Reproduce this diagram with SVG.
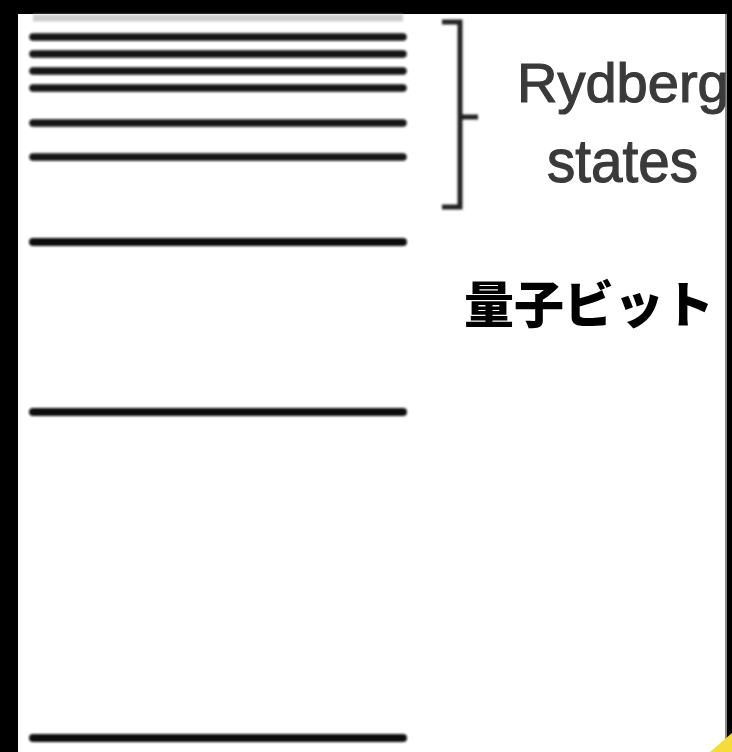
<svg xmlns="http://www.w3.org/2000/svg" width="732" height="752" viewBox="0 0 732 752">
  <defs>
    <filter id="soft" x="-5%" y="-100%" width="110%" height="300%">
      <feGaussianBlur stdDeviation="0.9"/>
    </filter>
    <clipPath id="page">
      <rect x="18" y="14" width="708" height="738"/>
    </clipPath>
    <style>
      .lvl { stroke: #111; stroke-width: 8; stroke-linecap: round; fill: none; }
      .ryd { stroke: #141414; stroke-width: 7.5; stroke-linecap: round; fill: none; }
      .lbl { font-family: "Liberation Sans", "DejaVu Sans", sans-serif; fill: #3a3a3a; stroke: #3a3a3a; stroke-width: 1.2; }
      .jp { font-family: "Noto Sans CJK JP", sans-serif; font-weight: 900; fill: #000; }
    </style>
  </defs>
  <rect x="0" y="0" width="732" height="752" fill="#000"/>
  <rect x="18" y="14" width="708" height="738" fill="#fff"/>
  <rect x="725" y="14" width="2" height="738" fill="#8a8a8a"/>
  <polygon points="710,752 732,733 732,752" fill="#f5dc3c"/>

  <g id="levels" filter="url(#soft)">
    <line x1="33" y1="18" x2="403" y2="18" stroke="#cfcfcf" stroke-width="7"/>
    <line class="ryd" x1="33" y1="37" x2="403" y2="37"/>
    <line class="ryd" x1="33" y1="54" x2="403" y2="54"/>
    <line class="ryd" x1="33" y1="71" x2="403" y2="71"/>
    <line class="ryd" x1="33" y1="88" x2="403" y2="88"/>
    <line class="ryd" x1="33" y1="123" x2="403" y2="123"/>
    <line class="ryd" x1="33" y1="157" x2="403" y2="157"/>
    <line class="lvl" x1="33" y1="242" x2="403" y2="242"/>
    <line class="lvl" x1="33" y1="412" x2="403" y2="412"/>
    <line class="lvl" x1="33" y1="738" x2="403" y2="738"/>
  </g>

  <g id="bracket" filter="url(#soft)">
    <path d="M442,22 H460 V207 H442 M460,117 H478" fill="none" stroke="#222" stroke-width="5"/>
  </g>

  <g id="rydberg-label" clip-path="url(#page)">
    <text class="lbl" x="517" y="102" font-size="56">Rydberg</text>
    <text class="lbl" x="547" y="182" font-size="62" textLength="151" lengthAdjust="spacingAndGlyphs">states</text>
  </g>

  <g id="qubit-label">
    <text class="jp" x="464" y="323" font-size="50">量子ビット</text>
  </g>
</svg>
